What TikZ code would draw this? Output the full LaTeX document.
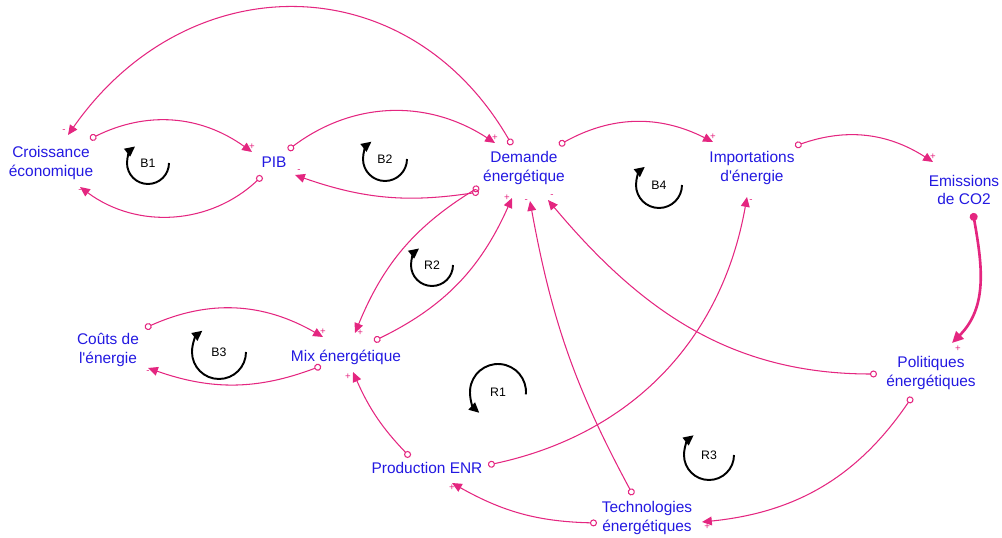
\documentclass[tikz,border=0pt]{standalone}
\usepackage{fontspec}
\setmainfont{Liberation Sans}
\usepackage{tikz}
\usetikzlibrary{arrows.meta,calc}
\definecolor{lienrose}{RGB}{228,38,128}
\definecolor{textebleu}{RGB}{35,25,225}

\begin{document}
\begin{tikzpicture}[x=0.02cm,y=0.02cm,
   var/.style={text=textebleu,align=center,inner sep=0pt,font=\fontsize{8.8}{10.5}\selectfont},
   lnk/.style={draw=lienrose,line width=0.6pt,{Circle[open,length=4pt]}-{Triangle[length=5.6pt,width=5pt,color=lienrose]}},
   sgn/.style={text=lienrose,inner sep=1pt,font=\fontsize{5.5}{5.5}\selectfont},
   bcl/.style={line width=1.1pt,-{Triangle[length=5.8pt,width=5.4pt]}},
   lbl/.style={font=\fontsize{7}{7}\selectfont,inner sep=0pt}]
  \useasboundingbox (0,0) rectangle (1002,538);
  % variables
  \node[var] (cro) at (51,375) {Croissance\\économique};
  \node[var] (pib) at (274,376) {PIB};
  \node[var] (dem) at (524,370) {Demande\\énergétique};
  \node[var] (imp) at (752,370) {Importations\\d\textquotesingle énergie};
  \node[var] (emi) at (964,348) {Emissions\\de CO2};
  \node[var] (cou) at (108,188) {Coûts de\\l\textquotesingle énergie};
  \node[var] (mix) at (346,181) {Mix énergétique};
  \node[var] (enr) at (427,70) {Production ENR};
  \node[var] (tec) at (647,20) {Technologies\\énergétiques};
  \node[var] (pol) at (931,165) {Politiques\\énergétiques};
  % liens
  \draw[lnk] ($(cro)+(39,24)$) to[bend left=31] node[sgn,at end,above]{+} ($(pib)+(-22,10)$);
  \draw[lnk] ($(pib)+(-12,-14)$) to[bend left=40] node[sgn,at end,below]{-} ($(cro)+(29,-24)$);
  \draw[lnk] ($(pib)+(14,12)$) to[bend left=35] node[sgn,at end,above]{+} ($(dem)+(-29,25)$);
  \draw[lnk] ($(dem)+(-45,-24)$) to[bend left=14] node[sgn,at end,above right]{-} ($(pib)+(21,-13)$);
  \draw[lnk] ($(dem)+(-12,23)$) to[out=120,in=55,looseness=1.2] node[sgn,at end,above left]{-} ($(cro)+(17,28)$);
  \draw[lnk] ($(dem)+(35,23)$) to[bend left=28] node[sgn,at end,above]{+} ($(imp)+(-39,26)$);
  \draw[lnk] ($(imp)+(43,22)$) to[bend left=26] node[sgn,at end,above]{+} ($(emi)+(-31,28)$);
  \draw[lnk,line width=1.5pt,{Circle[length=4.5pt]}-{Triangle[length=6.5pt,width=6pt]}] ($(emi)+(9,-23)$) to[out=-80,in=45] node[sgn,at end,below right]{+} ($(pol)+(21,30)$);
  \draw[lnk] ($(pol)+(-54,-1)$) to[out=180,in=-50] node[sgn,at end,above right]{-} ($(dem)+(24,-32)$);
  \draw[lnk] ($(pol)+(-19,-24)$) to[bend left=25] node[sgn,at end,below right]{+} ($(tec)+(55,-4)$);
  \draw[lnk] ($(tec)+(-50,-5)$) to[bend left=14] node[sgn,at end,below]{+} ($(enr)+(25,-15)$);
  \draw[lnk] ($(tec)+(-14,23)$) to[bend left=9] node[sgn,at end,left]{-} ($(dem)+(6,-33)$);
  \draw[lnk] ($(mix)+(28,16)$) to[bend right=20] node[sgn,at end,left]{+} ($(dem)+(-12,-30)$);
  \draw[lnk] ($(dem)+(-45,-19)$) to[bend right=18] node[sgn,at end,right]{+} ($(mix)+(9,24)$);
  \draw[lnk] ($(enr)+(-17,11)$) to[bend left=10] node[sgn,at end,below left]{+} ($(mix)+(7,-15)$);
  \draw[lnk] ($(enr)+(61,3)$) to[out=12,in=-100] node[sgn,at end,below right]{-} ($(imp)+(-5,-29)$);
  \draw[lnk] ($(mix)+(-25,-9)$) to[bend left=20] node[sgn,at end,below]{-} ($(cou)+(40,-18)$);
  \draw[lnk] ($(cou)+(37,22)$) to[bend left=27] node[sgn,at end,above]{+} ($(mix)+(-23,20)$);
  % boucles
  \node[lbl] (b1) at (148,375) {B1};
  \node[lbl] (b2) at (385,379) {B2};
  \node[lbl] (b4) at (659,353) {B4};
  \node[lbl] (b3) at (219,186) {B3};
  \node[lbl] (r2) at (432,273) {R2};
  \node[lbl] (r1) at (498,146) {R1};
  \node[lbl] (r3) at (709,83) {R3};
  \draw[bcl] ($(b1)+(21,0)$) arc[start angle=0,end angle=-232,radius=21];
  \draw[bcl] ($(b2)+(22,0)$) arc[start angle=0,end angle=-232,radius=22];
  \draw[bcl] ($(b4)+(23,0)$) arc[start angle=0,end angle=-232,radius=23];
  \draw[bcl] ($(b3)+(27,0)$) arc[start angle=0,end angle=-232,radius=27];
  \draw[bcl] ($(r2)+(21,0)$) arc[start angle=0,end angle=-232,radius=21];
  \draw[bcl] ($(r3)+(25,0)$) arc[start angle=0,end angle=-232,radius=25];
  \draw[bcl] ($(r1)+(-5:28)$) arc[start angle=-5,end angle=228,radius=28];
\end{tikzpicture}
\end{document}
